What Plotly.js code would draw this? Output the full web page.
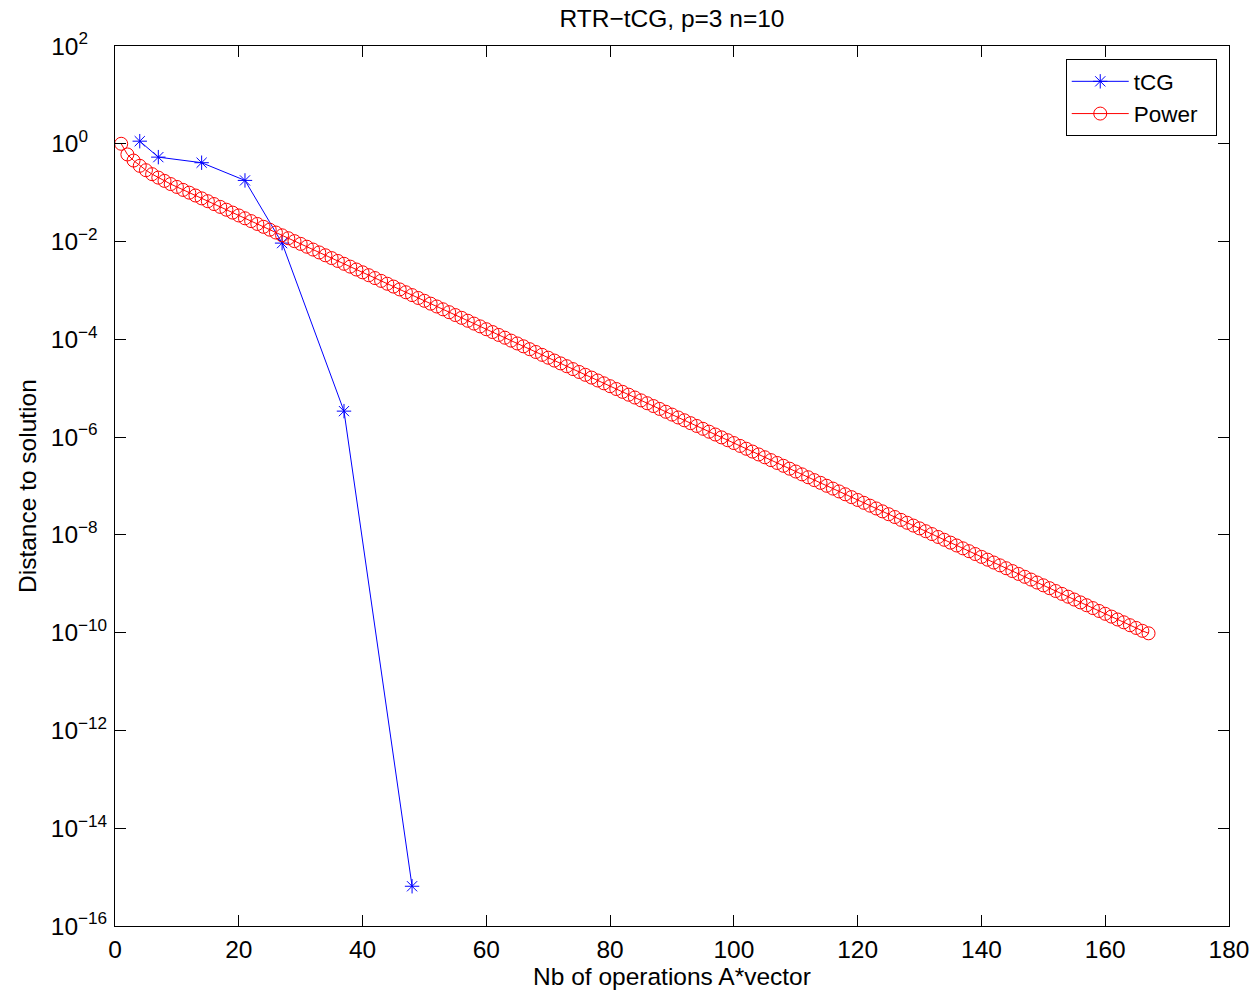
<!DOCTYPE html>
<html>
<head>
<meta charset="utf-8">
<script src="https://cdn.plot.ly/plotly-3.0.1.min.js"></script>
<style>html,body{margin:0;padding:0;background:#fff;}#chart{width:1256px;height:996px;}</style>
</head>
<body>
<div id="chart"></div>
<script>
// tCG series
const tcgX = [4, 7, 14, 21, 27, 37, 48];
const tcgY = [1.13, 0.533, 0.41, 0.178, 0.0093, 3.4e-6, 6.5e-16];

// Power series
const powerX = [
  1,2,3,4,5,6,7,8,9,10,11,12,13,14,15,16,17,18,19,20,
  21,22,23,24,25,26,27,28,29,30,31,32,33,34,35,36,37,38,39,40,
  41,42,43,44,45,46,47,48,49,50,51,52,53,54,55,56,57,58,59,60,
  61,62,63,64,65,66,67,68,69,70,71,72,73,74,75,76,77,78,79,80,
  81,82,83,84,85,86,87,88,89,90,91,92,93,94,95,96,97,98,99,100,
  101,102,103,104,105,106,107,108,109,110,111,112,113,114,115,116,117,118,119,120,
  121,122,123,124,125,126,127,128,129,130,131,132,133,134,135,136,137,138,139,140,
  141,142,143,144,145,146,147,148,149,150,151,152,153,154,155,156,157,158,159,160,
  161,162,163,164,165,166,167
];
const powerY = [
  1.0, 0.605, 0.454, 0.354, 0.288, 0.239, 0.203, 0.174, 0.150, 0.131,
  0.114, 1.00e-1, 8.75e-2, 7.65e-2, 6.69e-2, 5.85e-2, 5.12e-2, 4.48e-2, 3.91e-2, 3.42e-2,
  2.99e-2, 2.62e-2, 2.29e-2, 2.00e-2, 1.75e-2, 1.53e-2, 1.34e-2, 1.17e-2, 1.02e-2, 8.96e-3,
  7.84e-3, 6.86e-3, 5.99e-3, 5.24e-3, 4.59e-3, 4.01e-3, 3.51e-3, 3.07e-3, 2.68e-3, 2.35e-3,
  2.05e-3, 1.79e-3, 1.57e-3, 1.37e-3, 1.20e-3, 1.05e-3, 9.18e-4, 8.03e-4, 7.02e-4, 6.14e-4,
  5.37e-4, 4.70e-4, 4.11e-4, 3.59e-4, 3.14e-4, 2.75e-4, 2.40e-4, 2.10e-4, 1.84e-4, 1.61e-4,
  1.41e-4, 1.23e-4, 1.08e-4, 9.41e-5, 8.23e-5, 7.20e-5, 6.29e-5, 5.51e-5, 4.82e-5, 4.21e-5,
  3.68e-5, 3.22e-5, 2.82e-5, 2.46e-5, 2.15e-5, 1.88e-5, 1.65e-5, 1.44e-5, 1.26e-5, 1.10e-5,
  9.64e-6, 8.43e-6, 7.37e-6, 6.45e-6, 5.64e-6, 4.93e-6, 4.32e-6, 3.77e-6, 3.30e-6, 2.89e-6,
  2.52e-6, 2.21e-6, 1.93e-6, 1.69e-6, 1.48e-6, 1.29e-6, 1.13e-6, 9.88e-7, 8.64e-7, 7.56e-7,
  6.61e-7, 5.78e-7, 5.06e-7, 4.42e-7, 3.87e-7, 3.38e-7, 2.96e-7, 2.59e-7, 2.26e-7, 1.98e-7,
  1.73e-7, 1.51e-7, 1.32e-7, 1.16e-7, 1.01e-7, 8.85e-8, 7.74e-8, 6.77e-8, 5.92e-8, 5.18e-8,
  4.53e-8, 3.96e-8, 3.47e-8, 3.03e-8, 2.65e-8, 2.32e-8, 2.03e-8, 1.77e-8, 1.55e-8, 1.36e-8,
  1.19e-8, 1.04e-8, 9.07e-9, 7.94e-9, 6.94e-9, 6.07e-9, 5.31e-9, 4.64e-9, 4.06e-9, 3.55e-9,
  3.11e-9, 2.72e-9, 2.38e-9, 2.08e-9, 1.82e-9, 1.59e-9, 1.39e-9, 1.22e-9, 1.06e-9, 9.30e-10,
  8.13e-10, 7.11e-10, 6.22e-10, 5.44e-10, 4.76e-10, 4.16e-10, 3.64e-10, 3.18e-10, 2.78e-10, 2.43e-10,
  2.13e-10, 1.86e-10, 1.63e-10, 1.42e-10, 1.25e-10, 1.09e-10, 9.7e-11
];

// Axis ticks (labels padded so the "10" bases line up, as in the reference)
const xTicks = [0, 20, 40, 60, 80, 100, 120, 140, 160, 180];
const yTickVals = [1e2, 1e0, 1e-2, 1e-4, 1e-6, 1e-8, 1e-10, 1e-12, 1e-14, 1e-16];
const yTickText = [
  '10<sup>2\u00A0\u00A0\u00A0\u00A0</sup>', '10<sup>0\u00A0\u00A0\u00A0\u00A0</sup>',
  '10<sup>\u22122\u00A0\u00A0</sup>', '10<sup>\u22124\u00A0\u00A0</sup>',
  '10<sup>\u22126\u00A0\u00A0</sup>', '10<sup>\u22128\u00A0\u00A0</sup>',
  '10<sup>\u221210</sup>', '10<sup>\u221212</sup>',
  '10<sup>\u221214</sup>', '10<sup>\u221216</sup>'];

const FONT = 'Liberation Sans, Arial, Helvetica, sans-serif';
const FS = 24.5;

const traces = [
  {
    x: tcgX, y: tcgY, name: 'tCG', type: 'scatter', mode: 'lines+markers',
    line: {color: '#0000ff', width: 1},
    marker: {symbol: 'asterisk-open', size: 12, color: '#0000ff', line: {color: '#0000ff', width: 1}}
  },
  {
    x: powerX, y: powerY, name: 'Power\u00A0\u00A0', type: 'scatter', mode: 'lines+markers',
    line: {color: '#ff0000', width: 1},
    marker: {symbol: 'circle-open', size: 13, color: '#ff0000', line: {color: '#ff0000', width: 1}}
  }
];

const axisCommon = {
  showline: true, linecolor: '#000', linewidth: 1, mirror: 'ticks',
  ticks: 'inside', ticklen: 11, tickwidth: 1, tickcolor: '#000',
  showgrid: false, zeroline: false,
  tickfont: {family: FONT, size: FS, color: '#000'}
};

const layout = {
  width: 1256, height: 996,
  paper_bgcolor: '#fff', plot_bgcolor: '#fff',
  margin: {l: 115, r: 27, t: 46, b: 70, pad: 0},
  font: {family: FONT, size: FS, color: '#000'},
  title: {text: 'RTR\u2212tCG, p=3 n=10', font: {family: FONT, size: FS, color: '#000'},
          xref: 'paper', x: 0.5, xanchor: 'center', y: 0.982, yanchor: 'middle'},
  xaxis: Object.assign({}, axisCommon, {
    range: [0, 180], tickmode: 'array', tickvals: xTicks,
    ticklabelstandoff: 2,
    title: {text: 'Nb of operations A*vector', font: {family: FONT, size: FS, color: '#000'}, standoff: 5}
  }),
  yaxis: Object.assign({}, axisCommon, {
    type: 'log', range: [-16, 2], tickmode: 'array', tickvals: yTickVals, ticktext: yTickText,
    ticklabelstandoff: 2
  }),
  annotations: [{
    text: 'Distance to solution', textangle: -90, showarrow: false,
    xref: 'paper', yref: 'paper', x: -0.079, y: 0.5, xanchor: 'center', yanchor: 'middle',
    font: {family: FONT, size: FS, color: '#000'}
  }],
  showlegend: true,
  legend: {
    x: 0.989, xanchor: 'right', y: 0.985, yanchor: 'top',
    bgcolor: '#fff', bordercolor: '#000', borderwidth: 1,
    font: {family: FONT, size: 22.5, color: '#000'},
    itemwidth: 57,
    tracegroupgap: 0
  }
};

Plotly.newPlot('chart', traces, layout, {displayModeBar: false, staticPlot: true});
</script>
</body>
</html>
